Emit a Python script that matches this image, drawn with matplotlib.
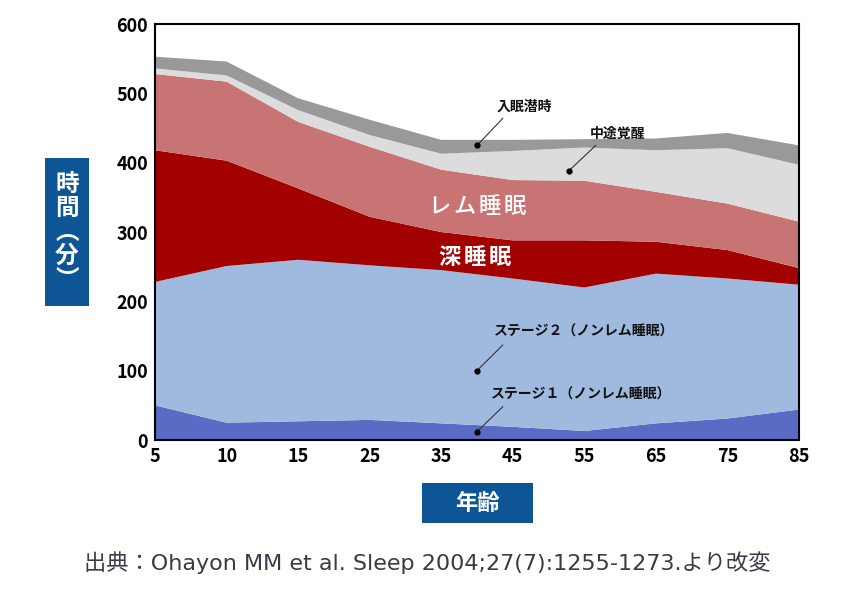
import matplotlib
matplotlib.use('Agg')
import matplotlib.pyplot as plt
from matplotlib.patches import Rectangle
import numpy as np

plt.rcParams['font.family'] = ['Noto Sans CJK JP', 'DejaVu Sans']

# 年齢 (x軸カテゴリ)
ages = ["5", "10", "15", "25", "35", "45", "55", "65", "75", "85"]

# 各睡眠段階の時間 (分), 下から積み上げ
stage1 = [50, 25, 27, 29, 24, 19, 13, 24, 31, 44]
stage2 = [178, 226, 233, 223, 221, 214, 207, 216, 202, 180]
deep_sleep = [190, 152, 103, 70, 55, 55, 68, 46, 41, 24]
rem_sleep = [110, 114, 96, 101, 90, 87, 86, 72, 67, 67]
waso = [8, 9, 17, 17, 23, 42, 48, 60, 80, 82]
latency = [17, 20, 17, 22, 20, 16, 12, 17, 22, 28]

colores = ["#5a6bc5", "#a0b9df", "#a30000", "#c87474", "#dcdcdc", "#999999"]

fig = plt.figure(figsize=(8.56, 5.95), dpi=100)
ax = fig.add_axes([0.1811, 0.2605, 0.7523, 0.699])

x = np.arange(len(ages))
ax.stackplot(x, stage1, stage2, deep_sleep, rem_sleep, waso, latency,
             colors=colores, linewidth=0)

ax.set_xlim(0, len(ages) - 1)
ax.set_ylim(0, 600)
ax.set_xticks(x)
ax.set_xticklabels(ages)
ax.set_yticks(range(0, 601, 100))
ax.tick_params(length=0, labelsize=13, pad=5)
for lbl in ax.get_xticklabels() + ax.get_yticklabels():
    lbl.set_fontweight("bold")
for sp in ax.spines.values():
    sp.set_linewidth(1.5)
    sp.set_color("black")


def texto_espaciado(cx, cy, texto, paso, **kw):
    # coloca cada caracter por separado para imitar el espaciado
    n = len(texto)
    for i, c in enumerate(texto):
        ax.text(cx + (i - (n - 1) / 2) * paso, cy, c, ha="center", va="center", **kw)


# 大きなラベル
texto_espaciado(4.5, 337, "レム睡眠", 0.35, color="white", fontsize=16, fontweight="medium")
texto_espaciado(4.47, 264, "深睡眠", 0.35, color="white", fontsize=16, fontweight="bold")

# 引き出し線つきラベル
notas = [
    ("入眠潜時", (4.5, 425), (4.86, 464), (5.16, 481)),
    ("中途覚醒", (5.78, 388), (6.16, 425), (6.47, 441)),
    ("ステージ２（ノンレム睡眠）", (4.5, 100), (4.86, 137), (6.0, 156)),
    ("ステージ１（ノンレム睡眠）", (4.5, 12), (4.86, 48), (5.95, 65)),
]
for texto, punto, fin, pos in notas:
    ax.plot([punto[0], fin[0]], [punto[1], fin[1]], color="#333333", linewidth=0.8)
    ax.plot(*punto, "o", color="black", markersize=3.5)
    ax.text(pos[0], pos[1], texto, fontsize=10, fontweight="bold", ha="center", va="center", color="#111111")

# y軸ラベル (青いボックス)
azul = "#0d5595"
fig.patches.append(Rectangle((0.0526, 0.4857), 0.0514, 0.2488, transform=fig.transFigure,
                             facecolor=azul, edgecolor="none"))
fig.text(0.0783, 0.61, "時\n間\n︵\n分\n︶", color="white", fontsize=17, fontweight="bold",
         ha="center", va="center", linespacing=1.0)

# x軸ラベル
fig.patches.append(Rectangle((0.493, 0.121), 0.1297, 0.067, transform=fig.transFigure,
                             facecolor=azul, edgecolor="none"))
fig.text(0.5578, 0.1545, "年齢", color="white", fontsize=16, fontweight="bold",
         ha="center", va="center")

fig.text(0.4994, 0.0538, "出典：Ohayon MM et al. Sleep 2004;27(7):1255-1273.より改変",
         color="#3a3a48", fontsize=16, ha="center", va="center",
         family=["DejaVu Sans", "Noto Sans CJK JP"])

plt.savefig("out.png", dpi=100)
plt.close()
